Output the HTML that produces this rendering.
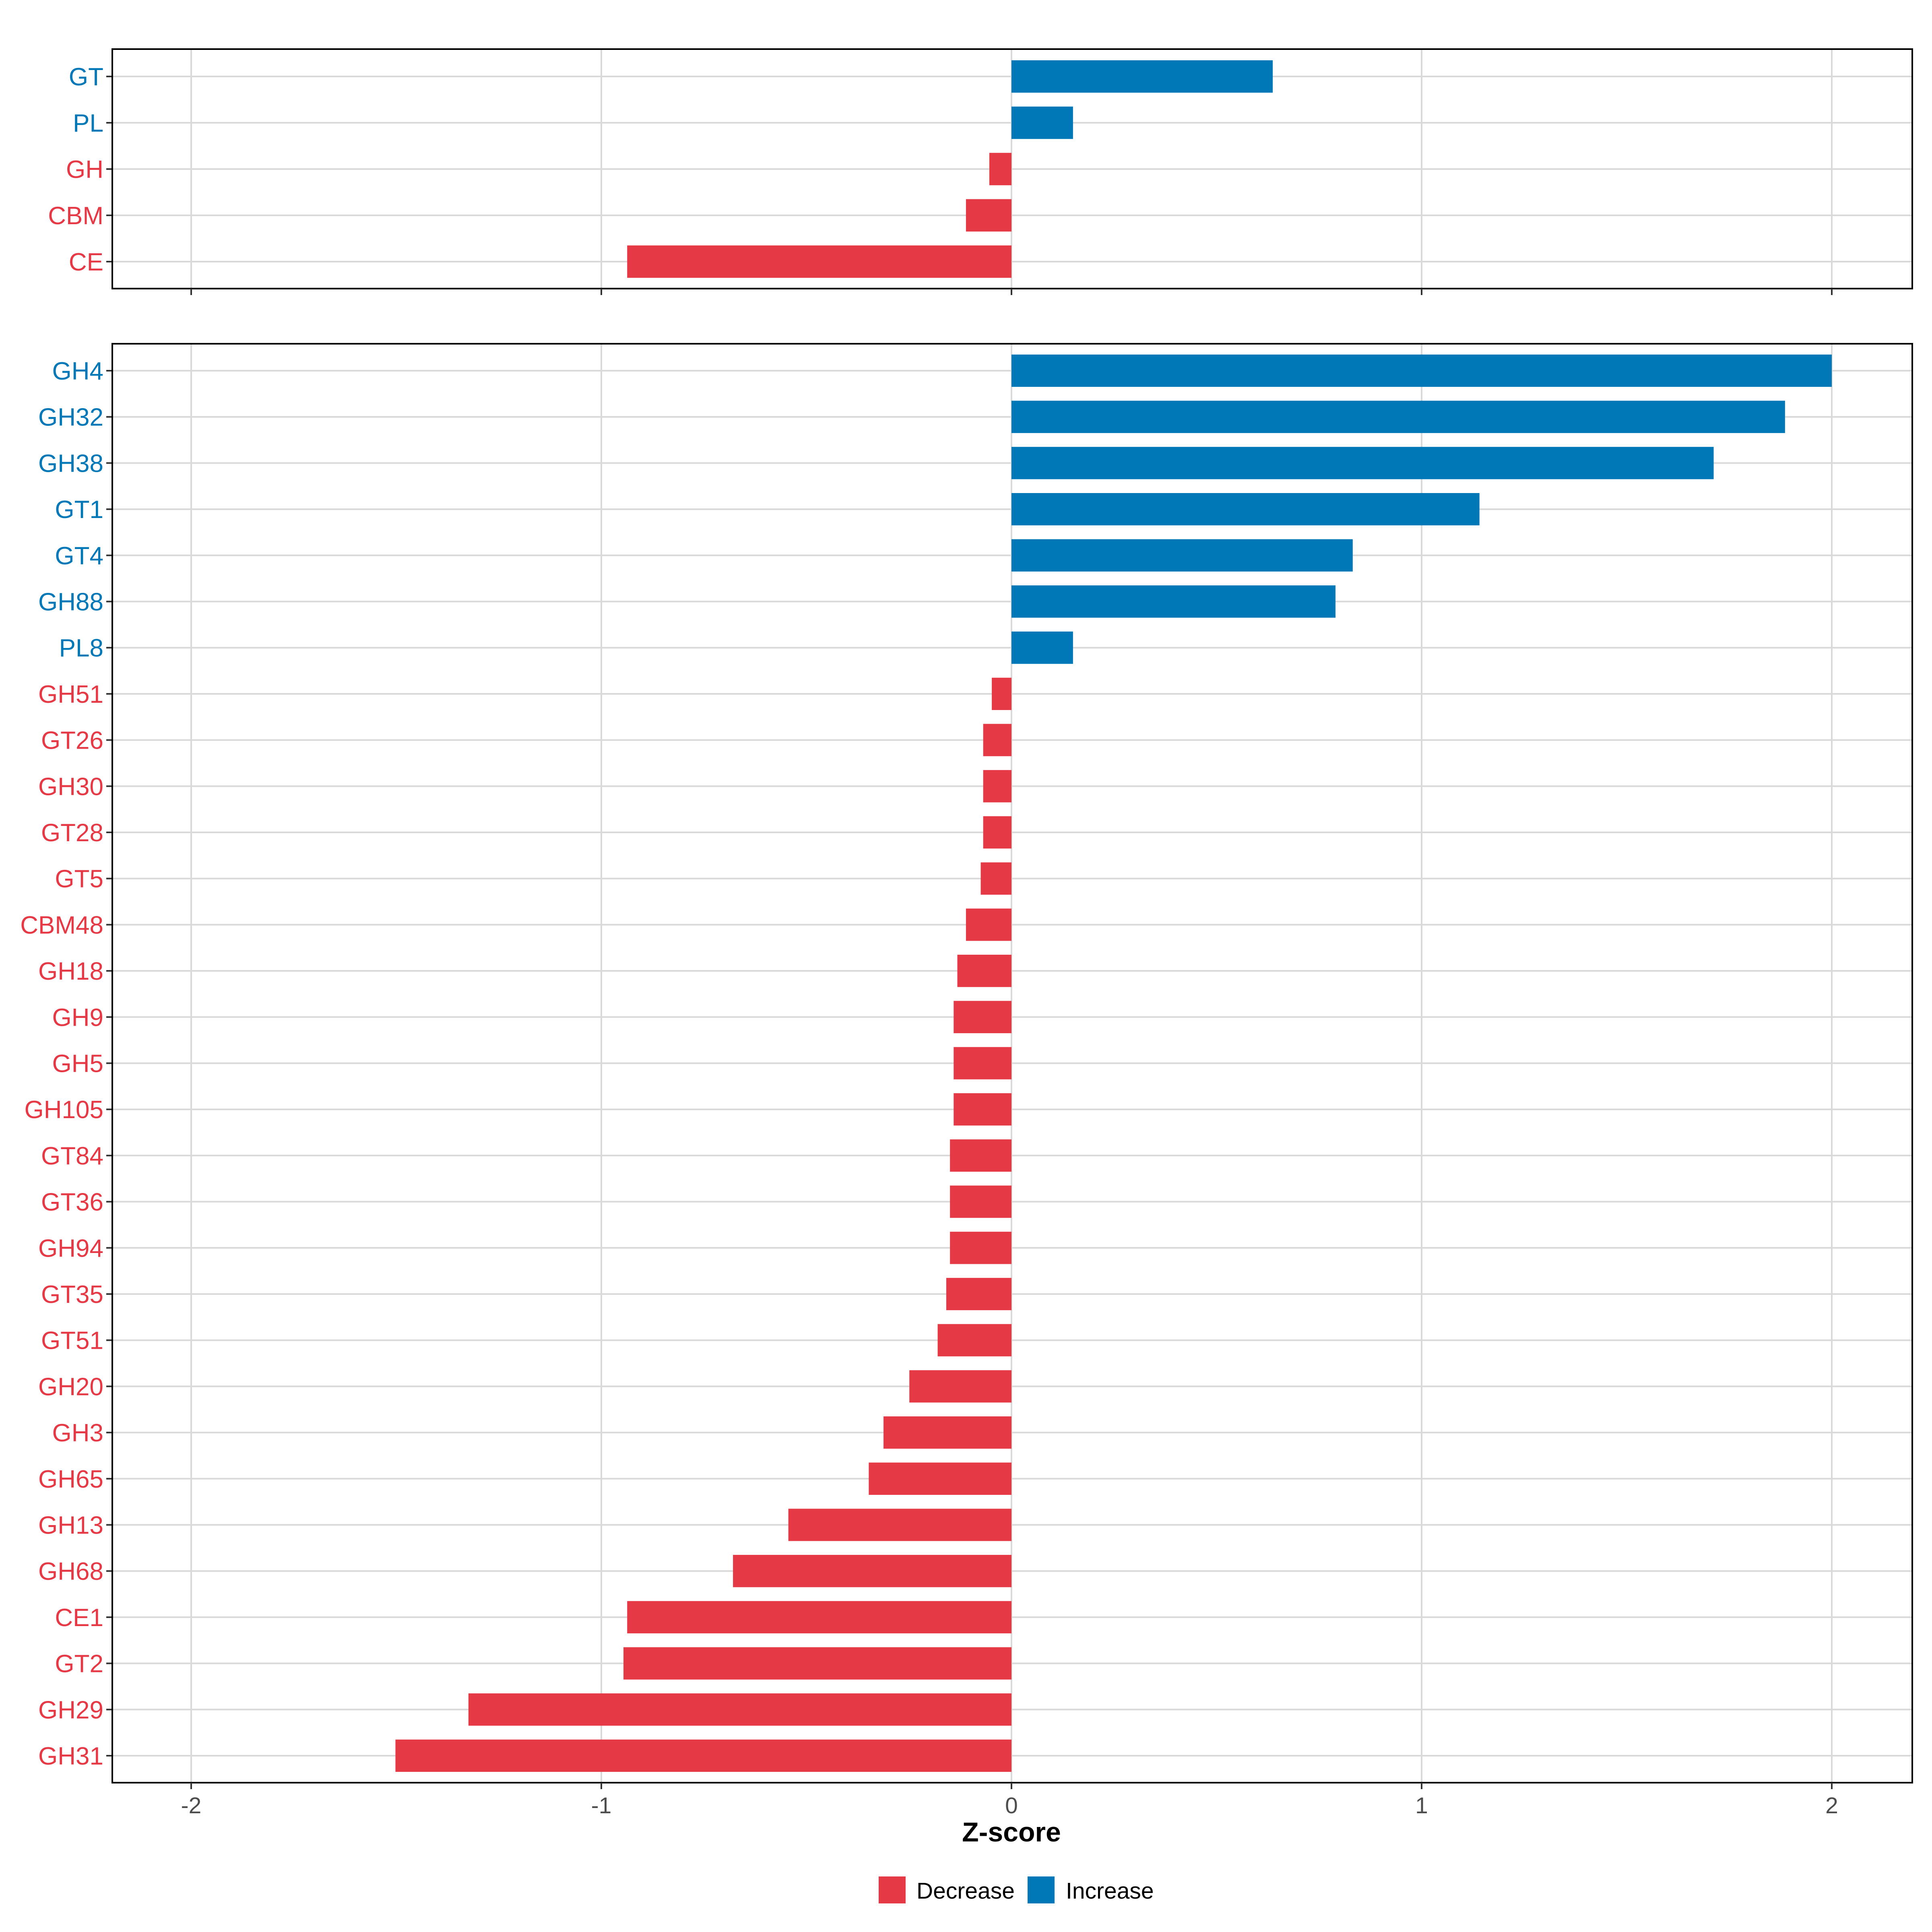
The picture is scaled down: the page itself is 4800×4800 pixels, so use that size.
<!DOCTYPE html>
<html><head><meta charset="utf-8"><style>
html,body{margin:0;padding:0;background:#fff}
svg{display:block;font-family:"Liberation Sans",sans-serif}
</style></head><body>
<svg id="chart" width="4800" height="4800" viewBox="0 0 4800 4800" xmlns="http://www.w3.org/2000/svg"></svg>
<script>
const topCategories = ["GT","PL","GH","CBM","CE"];
const topValues = [0.637,0.15,-0.054,-0.111,-0.937];
const bottomCategories = ["GH4","GH32","GH38","GT1","GT4","GH88","PL8","GH51","GT26","GH30","GT28","GT5","CBM48","GH18","GH9","GH5","GH105","GT84","GT36","GH94","GT35","GT51","GH20","GH3","GH65","GH13","GH68","CE1","GT2","GH29","GH31"];
const bottomValues = [2.0,1.886,1.712,1.141,0.832,0.79,0.15,-0.048,-0.069,-0.069,-0.069,-0.075,-0.111,-0.132,-0.141,-0.141,-0.141,-0.15,-0.15,-0.15,-0.159,-0.18,-0.249,-0.312,-0.348,-0.544,-0.679,-0.937,-0.946,-1.324,-1.502];
const xTicks = [-2,-1,0,1,2];
const xTickLabels = ["-2","-1","0","1","2"];

const NS="http://www.w3.org/2000/svg";
const svg=document.getElementById('chart');
const RED="#E63946", BLUE="#0077B6";
const L=279, R=4751;
function xs(v){return 2513+v*1019;}
function mk(tag,attrs,parent){const e=document.createElementNS(NS,tag);for(const k in attrs)e.setAttribute(k,attrs[k]);(parent||svg).appendChild(e);return e;}

function panel(name,cats,vals,top,bottom,firstY,step,showLabels){
  const g=mk('g',{});
  
  
  xTicks.forEach(t=>{
    const gl=mk('line',{x1:xs(t),x2:xs(t),y1:top,y2:bottom,stroke:"#d9d9d9","stroke-width":4},g);
    
    
  });
  cats.forEach((c,i)=>{
    const y=firstY+i*step;
    const gl=mk('line',{x1:L,x2:R,y1:y,y2:y,stroke:"#d9d9d9","stroke-width":4},g);
    
    
  });
  const bh=step*0.7;
  cats.forEach((c,i)=>{
    const y=firstY+i*step, v=vals[i];
    const col=v>=0?BLUE:RED;
    const x0=Math.min(xs(0),xs(v)), w=Math.abs(xs(v)-xs(0));
    const b=mk('rect',{x:x0,y:y-bh/2,width:w,height:bh,fill:col},g);
    
    
    const tk=mk('line',{x1:L-15,x2:L,y1:y,y2:y,stroke:"#333","stroke-width":4},g);
    
    
    const t=mk('text',{x:L-22,y:y+22,"text-anchor":"end","font-size":62,fill:col},g);
    t.textContent=c;
    
    
  });
  const fr=mk('rect',{x:L,y:top,width:R-L,height:bottom-top,fill:"none",stroke:"#000","stroke-width":4},g);
  
  
  xTicks.forEach((t,i)=>{
    const tk=mk('line',{x1:xs(t),x2:xs(t),y1:bottom,y2:bottom+16,stroke:"#333","stroke-width":4},g);
    
    
    if(showLabels){
      const tl=mk('text',{x:xs(t),y:bottom+76,"text-anchor":"middle","font-size":57,fill:"#4d4d4d"},g);
      tl.textContent=xTickLabels[i];
      
      
    }
  });
}
panel('top-panel',topCategories,topValues,122,717,190,115,false);
panel('bottom-panel',bottomCategories,bottomValues,854,4429,921,(4362-921)/30,true);

const xt=mk('text',{x:2513,y:4575,"text-anchor":"middle","font-size":68,"font-weight":"bold",fill:"#000"});
xt.textContent="Z-score";



const lg=mk('g',{});


const k1=mk('rect',{x:2183,y:4662,width:67,height:67,fill:RED},lg);


const t1=mk('text',{x:2277,y:4717,"font-size":57,fill:"#000"},lg);
t1.textContent="Decrease";


const k2=mk('rect',{x:2553,y:4662,width:67,height:67,fill:BLUE},lg);


const t2=mk('text',{x:2648,y:4717,"font-size":57,fill:"#000"},lg);
t2.textContent="Increase";


</script>
</body></html>
